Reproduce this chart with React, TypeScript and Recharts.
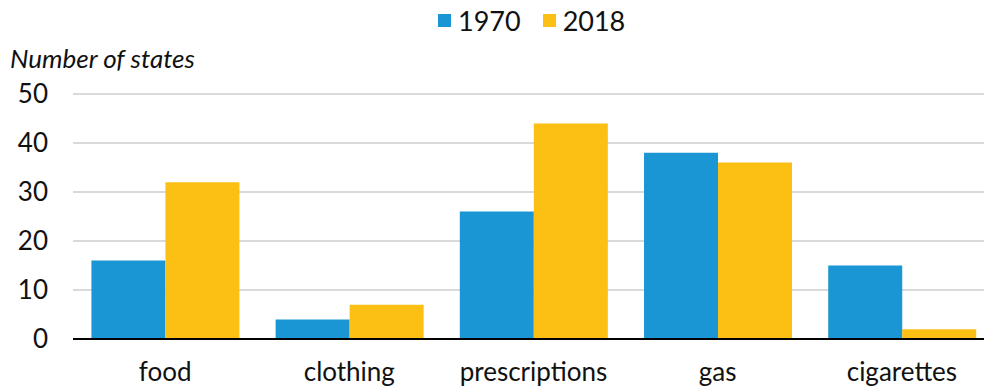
import { Bar, BarChart, CartesianGrid, XAxis, YAxis } from 'recharts';

const categories = ['food', 'clothing', 'prescriptions', 'gas', 'cigarettes'];
const states1970 = [16, 4, 26, 38, 15];
const states2018 = [32, 7, 44, 36, 2];
const yTicks = [0, 10, 20, 30, 40, 50];

const series = [
  { key: 'y1970', name: '1970', color: '#1a96d4' },
  { key: 'y2018', name: '2018', color: '#fcbf14' },
];

const data = categories.map((name, i) => ({
  name,
  y1970: states1970[i],
  y2018: states2018[i],
}));

const FONT = 'Lato, "Noto Sans", sans-serif';

export default function App() {
  return (
    <div
      style={{
        position: 'absolute',
        left: 0,
        top: 0,
        width: 984,
        height: 388,
        overflow: 'hidden',
        fontFamily: FONT,
        color: '#111',
      }}
    >
      {/* legend */}
      <div
        style={{
          position: 'absolute',
          left: 438,
          top: 4,
          display: 'flex',
          alignItems: 'center',
          fontSize: 27,
          whiteSpace: 'nowrap',
        }}
      >
        {series.map((s) => (
          <span key={s.key} style={{ display: 'flex', alignItems: 'center', marginRight: 22 }}>
            <span style={{ width: 13, height: 13, background: s.color, marginRight: 7 }} />
            {s.name}
          </span>
        ))}
      </div>
      <div
        style={{
          position: 'absolute',
          left: 10,
          top: 42,
          fontSize: 26,
          fontStyle: 'italic',
          whiteSpace: 'nowrap',
        }}
      >
        Number of states
      </div>
      {/* plot runs a little past the right edge, as in the source */}
      <BarChart
        width={994}
        height={388}
        data={data}
        margin={{ top: 94, right: 0, bottom: 0, left: 0 }}
        barCategoryGap="10%"
        barGap={0}
      >
        <CartesianGrid vertical={false} stroke="#d9d9d9" strokeWidth={2} />
        <XAxis
          dataKey="name"
          axisLine={{ stroke: '#000', strokeWidth: 2 }}
          tickLine={false}
          tickSize={0}
          tickMargin={24}
          tick={{ fill: '#111', fontSize: 26, fontFamily: FONT }}
          height={49}
        />
        <YAxis
          domain={[0, 50]}
          ticks={yTicks}
          width={73}
          axisLine={false}
          tickLine={false}
          tickSize={0}
          tickMargin={25}
          tick={{ fill: '#111', fontSize: 26, fontFamily: FONT }}
        />
        {series.map((s) => (
          <Bar key={s.key} dataKey={s.key} name={s.name} fill={s.color} isAnimationActive={false} />
        ))}
      </BarChart>
    </div>
  );
}
